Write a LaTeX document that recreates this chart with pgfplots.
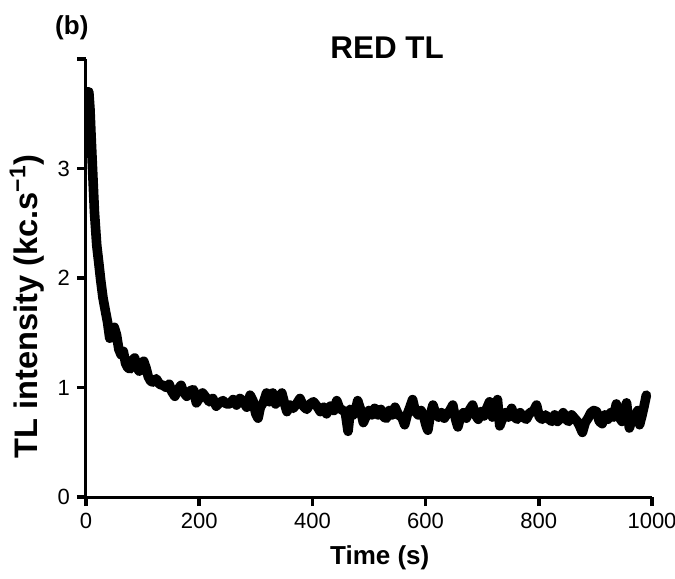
\documentclass[border=0pt]{standalone}
\usepackage{fontspec}
\setmainfont{Liberation Sans}
\usepackage{pgfplots}
\pgfplotsset{compat=1.18}

\begin{document}
\begin{tikzpicture}
\begin{axis}[
  scale only axis,
  width=283pt, height=219pt,
  xmin=0, xmax=1000, ymin=0, ymax=4,
  axis x line=bottom, axis y line=left,
  axis line style={-, line width=1.5pt},
  xtick={0,200,400,600,800,1000},
  ytick={0,1,2,3,4}, yticklabels={0,1,2,3,},
  tick align=outside, major tick length=4.5pt,
  every tick/.append style={black, line width=1.7pt},
  ticklabel style={font=\fontsize{11}{13}\selectfont},
  /pgf/number format/assume math mode=true,
  /pgf/number format/1000 sep={},
  xlabel={Time (s)},
  ylabel={TL intensity (kc.s\textsuperscript{−1})},
  every axis x label/.style={at={(rel axis cs:0.519,-0.139)}, anchor=center,
    font=\fontsize{13}{15}\selectfont\bfseries},
  every axis y label/.style={at={(rel axis cs:-0.104,0.435)}, anchor=center, rotate=90,
    font=\fontsize{16.3}{19}\selectfont\bfseries},
]
\addplot[black, line width=4.8pt, line join=round, line cap=round] coordinates {
(0,3.62) (2,3.70) (5,3.70) (7,3.55) (9,3.30) (12,2.95) (15,2.60) (19,2.30)
(23,2.12) (26,1.98) (30,1.82) (35,1.68) (38,1.60) (42,1.45) (46,1.52) (50,1.55)
(54,1.48) (58,1.35) (62,1.30) (66,1.33) (70,1.22) (74,1.18) (78,1.17) (82,1.25)
(86,1.27) (90,1.18) (94,1.15) (98,1.22) (102,1.24) (106,1.18) (110,1.10) (114,1.06)
(118,1.05) (124,1.08) (130,1.03) (136,1.02) (142,1.00) (147,1.03) (152,0.96) (157,0.92)
(162,0.98) (168,1.02) (172,0.96) (178,0.92) (184,0.97) (190,0.98) (195,0.86) (200,0.90)
(206,0.95) (212,0.91) (218,0.87) (224,0.90) (230,0.83) (236,0.86) (242,0.88) (248,0.85)
(254,0.85) (260,0.89) (266,0.84) (272,0.90) (278,0.87) (284,0.82) (290,0.93) (295,0.88)
(300,0.76) (304,0.72) (308,0.82) (314,0.87) (319,0.95) (324,0.87) (330,0.95) (335,0.85)
(340,0.88) (346,0.95) (351,0.85) (355,0.78) (360,0.84) (366,0.81) (372,0.85) (378,0.90)
(384,0.83) (390,0.80) (396,0.85) (402,0.87) (408,0.83) (414,0.78) (420,0.82) (425,0.76)
(432,0.83) (438,0.79) (443,0.88) (448,0.81) (454,0.79) (458,0.78) (463,0.60) (467,0.80)
(472,0.75) (476,0.78) (480,0.88) (485,0.80) (490,0.68) (495,0.74) (500,0.79) (505,0.75)
(510,0.81) (516,0.75) (521,0.80) (526,0.73) (531,0.72) (536,0.79) (541,0.75) (546,0.82)
(552,0.75) (558,0.73) (563,0.66) (568,0.76) (573,0.83) (577,0.89) (582,0.78) (587,0.75)
(592,0.79) (597,0.73) (601,0.65) (604,0.61) (608,0.74) (613,0.84) (618,0.76) (623,0.73)
(628,0.77) (633,0.72) (638,0.76) (643,0.79) (648,0.84) (653,0.71) (657,0.64) (662,0.74)
(667,0.77) (672,0.72) (677,0.79) (683,0.84) (688,0.75) (693,0.71) (698,0.78) (703,0.74)
(708,0.81) (713,0.87) (718,0.73) (722,0.78) (727,0.89) (731,0.65) (736,0.72) (741,0.77)
(746,0.73) (752,0.81) (757,0.73) (762,0.71) (767,0.77) (772,0.73) (778,0.71) (784,0.77)
(790,0.78) (796,0.84) (801,0.73) (806,0.71) (812,0.75) (818,0.71) (823,0.69) (828,0.75)
(833,0.69) (838,0.72) (843,0.77) (848,0.71) (853,0.69) (858,0.75) (863,0.72) (868,0.69)
(872,0.65) (877,0.59) (882,0.68) (887,0.72) (892,0.77) (897,0.79) (902,0.78) (907,0.69)
(912,0.67) (917,0.75) (922,0.71) (927,0.77) (932,0.73) (937,0.85) (942,0.73) (947,0.69)
(952,0.78) (955,0.86) (960,0.63) (965,0.72) (970,0.74) (975,0.79) (978,0.66) (982,0.74)
(986,0.83) (990,0.93)
};
\coordinate (ttl) at (rel axis cs:0.532,1.025);
\coordinate (lbl) at (rel axis cs:-0.025,1.071);
\coordinate (bbll) at (rel axis cs:-0.1519,-0.1849);
\coordinate (bbur) at (rel axis cs:1.0406,1.1347);
\end{axis}
\node[font=\fontsize{15.7}{18}\selectfont\bfseries] at (ttl) {RED TL};
\node[font=\fontsize{13}{15}\selectfont\bfseries] at (lbl) {(b)};
\pgfresetboundingbox
\path (bbll) rectangle (bbur);
\end{tikzpicture}
\end{document}
